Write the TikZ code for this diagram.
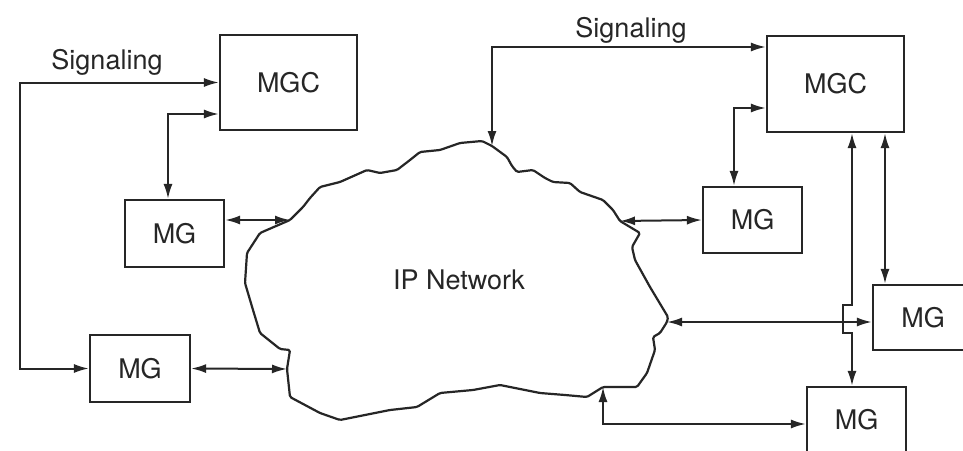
\documentclass[tikz,border=0pt]{standalone}
\usepackage{fontspec}
\setmainfont{TeX Gyre Heros}
\usetikzlibrary{arrows.meta}
\definecolor{ink}{HTML}{262626}
\begin{document}
\begin{tikzpicture}[x=1pt,y=-1pt,
  box/.style={draw=ink,text=ink,line width=2.2pt,inner sep=0pt,font=\fontsize{27}{30}\selectfont},
  lbl/.style={text=ink,inner sep=0pt,font=\fontsize{27}{30}\selectfont},
  conn/.style={draw=ink,line width=2pt,{Latex[length=15pt,width=9pt]}-{Latex[length=15pt,width=9pt]}},
  cloudline/.style={draw=ink,line width=2.2pt,line join=round,rounded corners=1.5pt}]
\useasboundingbox (0,0) rectangle (963,450);
\clip (0,0) rectangle (963,450);
\fill[white] (0,0) rectangle (963,450);
% boxes
\node[box,minimum width=137pt,minimum height=95pt] (lmgc) at (288.5,82.5) {MGC};
\node[box,minimum width=137pt,minimum height=96pt] (rmgc) at (835.5,84) {MGC};
\node[box,minimum width=99pt,minimum height=67pt] (ulmg) at (174.5,233.5) {MG};
\node[box,minimum width=100pt,minimum height=67pt] (llmg) at (140,368.5) {MG};
\node[box,minimum width=99pt,minimum height=66pt] (urmg) at (752.5,220) {MG};
\node[box,minimum width=100pt,minimum height=65pt] (rmg) at (923,317.5) {MG};
\node[box,minimum width=99pt,minimum height=66pt] (lrmg) at (856.5,420) {MG};
% labels
\node[lbl] (sigl) at (107,62) {Signaling};
\node[lbl] (sigr) at (631,30) {Signaling};
\node[lbl] (ipn) at (459,280) {IP Network};
% cloud touch points
\coordinate (ctop) at (492,146);
\coordinate (cur) at (620,221);
\coordinate (cr) at (667,322);
\coordinate (cbr) at (603,387);
\coordinate (cll) at (287,369);
\coordinate (cul) at (290,220);
% cloud
\draw[cloudline] (482,141) -- (ctop) -- (507,157) -- (512,166) -- (517,172) -- (533,170) -- (545,178) -- (553,182) -- (570,183) -- (580,192) -- (603,200) -- (613,210) -- (cur) -- (640,233) -- (632,247) -- (635,260) -- (650,287) -- (668,317) -- (cr) -- (660,333) -- (653,337) -- (655,350) -- (647,373) -- (637,387) -- (cbr) -- (587,397) -- (565,395) -- (540,393) -- (500,385) -- (473,390) -- (440,393) -- (417,407) -- (390,410) -- (365,415) -- (340,420) -- (320,413) -- (290,397) -- (cll) -- (290,350) -- (280,349) -- (260,333) -- (253,310) -- (245,283) -- (247,253) -- (260,233) -- (cul) -- (303,207) -- (310,198) -- (320,187) -- (340,182) -- (367,170) -- (380,173) -- (397,170) -- (410,160) -- (420,152) -- (440,150) -- (460,143) -- cycle;
% connector bends
\coordinate (sl1) at (20,82.5);
\coordinate (sl2) at (20,368.5);
\coordinate (sr1) at (492,47);
\coordinate (lrb) at (603,424);
\coordinate (j1) at (852,305);
\coordinate (j2) at (843,305);
\coordinate (j3) at (843,333);
\coordinate (j4) at (852,333);
% connectors
\draw[conn] (lmgc.west) -- (sl1) -- (sl2) -- (llmg.west);
\draw[conn] ([yshift=-31.5pt]lmgc.west) -| ([xshift=-6.5pt]ulmg.north);
\draw[conn] ([yshift=13.5pt]ulmg.east) -- (cul);
\draw[conn] (llmg.east) -- (cll);
\draw[conn] ([yshift=37pt]rmgc.west) -- (sr1) -- (ctop);
\draw[conn] ([yshift=-24pt]rmgc.west) -| ([xshift=-18.5pt]urmg.north);
\draw[conn] (cur) -- (urmg.west);
\draw[conn] ([xshift=49.5pt]rmgc.south) -- ([xshift=-38pt]rmg.north);
\draw[conn] ([xshift=16.5pt]rmgc.south) -- (j1) -- (j2) -- (j3) -- (j4) -- ([xshift=-4.5pt]lrmg.north);
\draw[conn] (cr) -- ([yshift=-4.5pt]rmg.west);
\draw[conn] (cbr) -- (lrb) -- ([yshift=-4pt]lrmg.west);
\end{tikzpicture}
\end{document}
